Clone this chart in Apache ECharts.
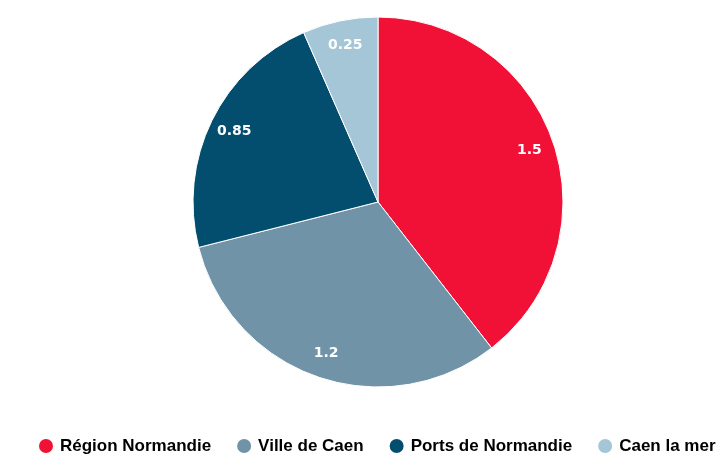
<!DOCTYPE html>
<html>
<head>
<meta charset="utf-8">
<script src="https://cdn.jsdelivr.net/npm/echarts@6/dist/echarts.min.js"></script>
<style>
  html, body { margin: 0; padding: 0; background: #fff; }
  #chart { width: 728px; height: 476px; }
</style>
</head>
<body>
<div id="chart"></div>
<script>
// Funders and their contributions
var names = ['Région Normandie', 'Ville de Caen', 'Ports de Normandie', 'Caen la mer'];
var values = [1.5, 1.2, 0.85, 0.25];
var colors = ['#f21136', '#7193a8', '#034e6e', '#a4c6d7'];

var chart = echarts.init(document.getElementById('chart'));

var data = [];
for (var i = 0; i < names.length; i++) {
    data.push({ name: names[i], value: values[i] });
}

chart.setOption({
    color: colors,
    animation: false,

    // Legend along the bottom
    legend: {
        data: names,
        left: 37,
        top: 437,
        padding: 0,
        icon: 'circle',
        itemWidth: 16,
        itemHeight: 16,
        itemGap: 24,
        textStyle: {
            fontFamily: 'Liberation Sans, Arial, sans-serif',
            fontWeight: 'bold',
            fontSize: 17,
            color: '#000',
            padding: [0, 0, 0, 1]
        }
    },

    series: [
        {
            name: 'main',
            type: 'pie',
            center: [378, 202],
            radius: [0, 185],
            startAngle: 90,
            clockwise: true,
            label: { show: false },
            labelLine: { show: false },
            itemStyle: {
                borderColor: '#fff',
                borderWidth: 1
            },
            emphasis: { disabled: true },
            data: data
        },
        {
            // invisible helper pie, only used to place labels near the rim
            name: 'labels',
            type: 'pie',
            center: [378, 202],
            radius: [0, 314],
            startAngle: 90,
            clockwise: true,
            silent: true,
            itemStyle: { color: 'transparent', borderWidth: 0 },
            label: {
                show: true,
                position: 'inside',
                color: '#fff',
                fontFamily: 'DejaVu Sans, Verdana, sans-serif',
                fontWeight: 'bold',
                fontSize: 14,
                formatter: '{c}'
            },
            labelLine: { show: false },
            emphasis: { disabled: true },
            data: data
        }
    ]
});
</script>
</body>
</html>
